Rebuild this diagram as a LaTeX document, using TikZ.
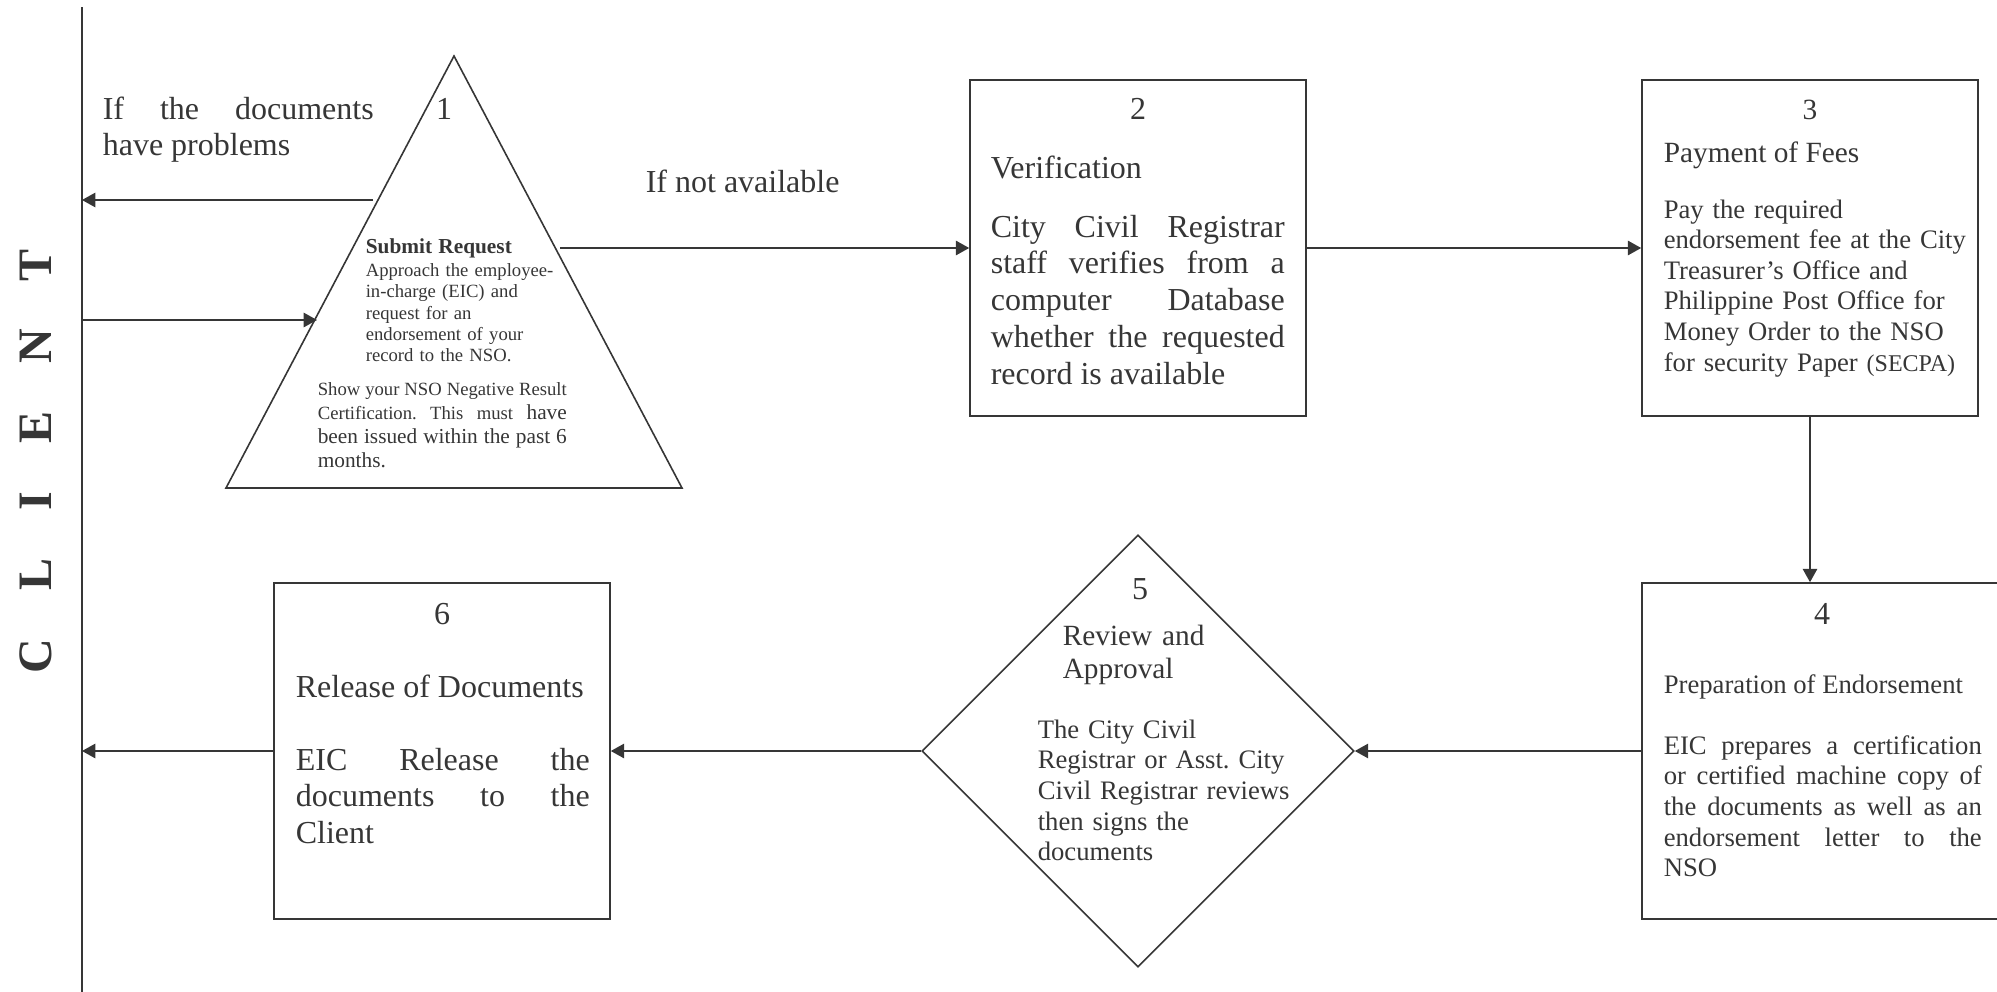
\documentclass[tikz,border=0pt]{standalone}
\usepackage{fontspec}
\setmainfont{Liberation Serif}
\usetikzlibrary{arrows.meta}
\usetikzlibrary{shapes.geometric}
\definecolor{ink}{HTML}{363636}
\tolerance=10000
\frenchspacing
\tikzset{stepbox/.style = {draw, minimum width = 126pt, minimum height = 126pt, inner sep = 0}}
\tikzset{stepdiamond/.style = {draw, diamond, minimum width = 162pt, minimum height = 162pt, inner sep = 0}}
\tikzset{flow/.style = {-{Triangle[length = 5pt, width = 5.4pt]}}}
\tikzset{num/.style = {anchor = base, inner sep = 0}}
\tikzset{txt/.style = {anchor = base west, inner sep = 0}}
\tikzset{t12/.style = {font = \fontsize{12}{13.8}\selectfont}}
\tikzset{t11/.style = {font = \fontsize{11}{12.65}\selectfont}}
\tikzset{t10/.style = {font = \fontsize{10}{11.5}\selectfont}}

\begin{document}
\begin{tikzpicture}[x = 37.5pt, y = -37.5pt, color = ink, line width = 0.6pt]
    \useasboundingbox (0, 0) rectangle (19.97, 9.92);
    % client lane
    \coordinate (ctop) at (0.82, 0.07);
    \coordinate (cbot) at (0.82, 9.92);
    \draw (ctop) -- (cbot);
    \node [rotate = 90, inner sep = 0, font = \fontsize{18}{20}\selectfont\bfseries] (client) at (0.36, 4.61) {C\quad L\quad I\quad E\quad N\quad T};
    % step 1
    \coordinate (t1top) at (4.54, 0.56);
    \coordinate (t1left) at (2.26, 4.88);
    \coordinate (t1right) at (6.82, 4.88);
    \draw (t1top) -- (t1right) -- (t1left) -- cycle;
    \node [num, t12] (n1) at (4.44, 1.19) {1};
    \node [txt, t12, text width = 101.6pt, align = justify] (problems) at (1.02, 1.19) {If the documents\linebreak have problems};
    \node [txt, text width = 80pt, align = left, font = \fontsize{7}{8.05}\selectfont] (request) at (3.65, 2.53) {{\fontsize{8}{9.2}\selectfont\bfseries Submit Request}\\[0.6pt] Approach the employee-\\ in-charge (EIC) and\\ request for an\\ endorsement of your\\ record to the NSO.};
    \node [txt, text width = 93.4pt, align = justify, font = \fontsize{7}{9}\selectfont] (negative) at (3.17, 3.95) {Show your NSO Negative Result\linebreak Certification. This must {\fontsize{8}{9}\selectfont have}\linebreak {\fontsize{8}{9}\selectfont been issued within the past 6\linebreak months.}};
    \node [txt, t12] (notavail) at (6.45, 1.92) {If not available};
    % step 2
    \node [stepbox] (s2) at (11.38, 2.48) {};
    \node [num, t12] (n2) at (11.38, 1.20) {2};
    \node [txt, t12] (h2) at (9.90, 1.78) {Verification};
    \node [txt, t12, text width = 110.25pt, align = justify] (b2) at (9.90, 2.37) {City Civil Registrar\linebreak staff verifies from a\linebreak computer Database\linebreak whether the requested\linebreak record is available};
    % step 3
    \node [stepbox] (s3) at (18.10, 2.48) {};
    \node [num, t11] (n3) at (18.10, 1.20) {3};
    \node [txt, t11] (h3) at (16.63, 1.62) {Payment of Fees};
    \node [txt, t10, text width = 120pt, align = left] (b3) at (16.63, 2.18) {Pay the required\\ endorsement fee at the City\\ Treasurer's Office and\\ Philippine Post Office for\\ Money Order to the NSO\\ for security Paper {\fontsize{9}{11.5}\selectfont (SECPA)}};
    % step 4
    \node [stepbox, minimum width = 135.4pt] (s4) at (18.225, 7.51) {};
    \node [num, t12] (n4) at (18.22, 6.24) {4};
    \node [txt, t10] (h4) at (16.63, 6.93) {Preparation of Endorsement};
    \node [txt, t10, text width = 119.25pt, align = justify] (b4) at (16.63, 7.54) {EIC prepares a certification\linebreak or certified machine copy of\linebreak the documents as well as an\linebreak endorsement letter to the\linebreak NSO};
    % step 5
    \node [stepdiamond] (s5) at (11.38, 7.51) {};
    \node [num, t12] (n5) at (11.40, 5.99) {5};
    \node [txt, t11, text width = 60pt, align = left] (h5) at (10.62, 6.45) {Review and\\ Approval};
    \node [txt, t10, text width = 100pt, align = left] (b5) at (10.37, 7.38) {The City Civil\\ Registrar or Asst. City\\ Civil Registrar reviews\\ then signs the\\ documents};
    % step 6
    \node [stepbox] (s6) at (4.42, 7.51) {};
    \node [num, t12] (n6) at (4.42, 6.24) {6};
    \node [txt, t12] (h6) at (2.95, 6.97) {Release of Documents};
    \node [txt, t12, text width = 110.25pt, align = justify] (b6) at (2.95, 7.70) {EIC Release the\linebreak documents to the\linebreak Client};
    % connectors
    \coordinate (t1out) at (3.73, 2.00);
    \coordinate (t1in) at (3.17, 3.20);
    \coordinate (t1r) at (5.60, 2.48);
    \draw [flow] (t1out) -- (t1out -| ctop);
    \draw [flow] (t1in -| ctop) -- (t1in);
    \draw [flow] (t1r) -- (s2.west);
    \draw [flow] (s2) -- (s3);
    \draw [flow] (s3.south) -- (s3.south |- s4.north);
    \draw [flow] (s4.west) -- (s5.east);
    \draw [flow] (s5) -- (s6);
    \draw [flow] (s6.west) -- (s6.west -| ctop);
  \end{tikzpicture}
\end{document}
